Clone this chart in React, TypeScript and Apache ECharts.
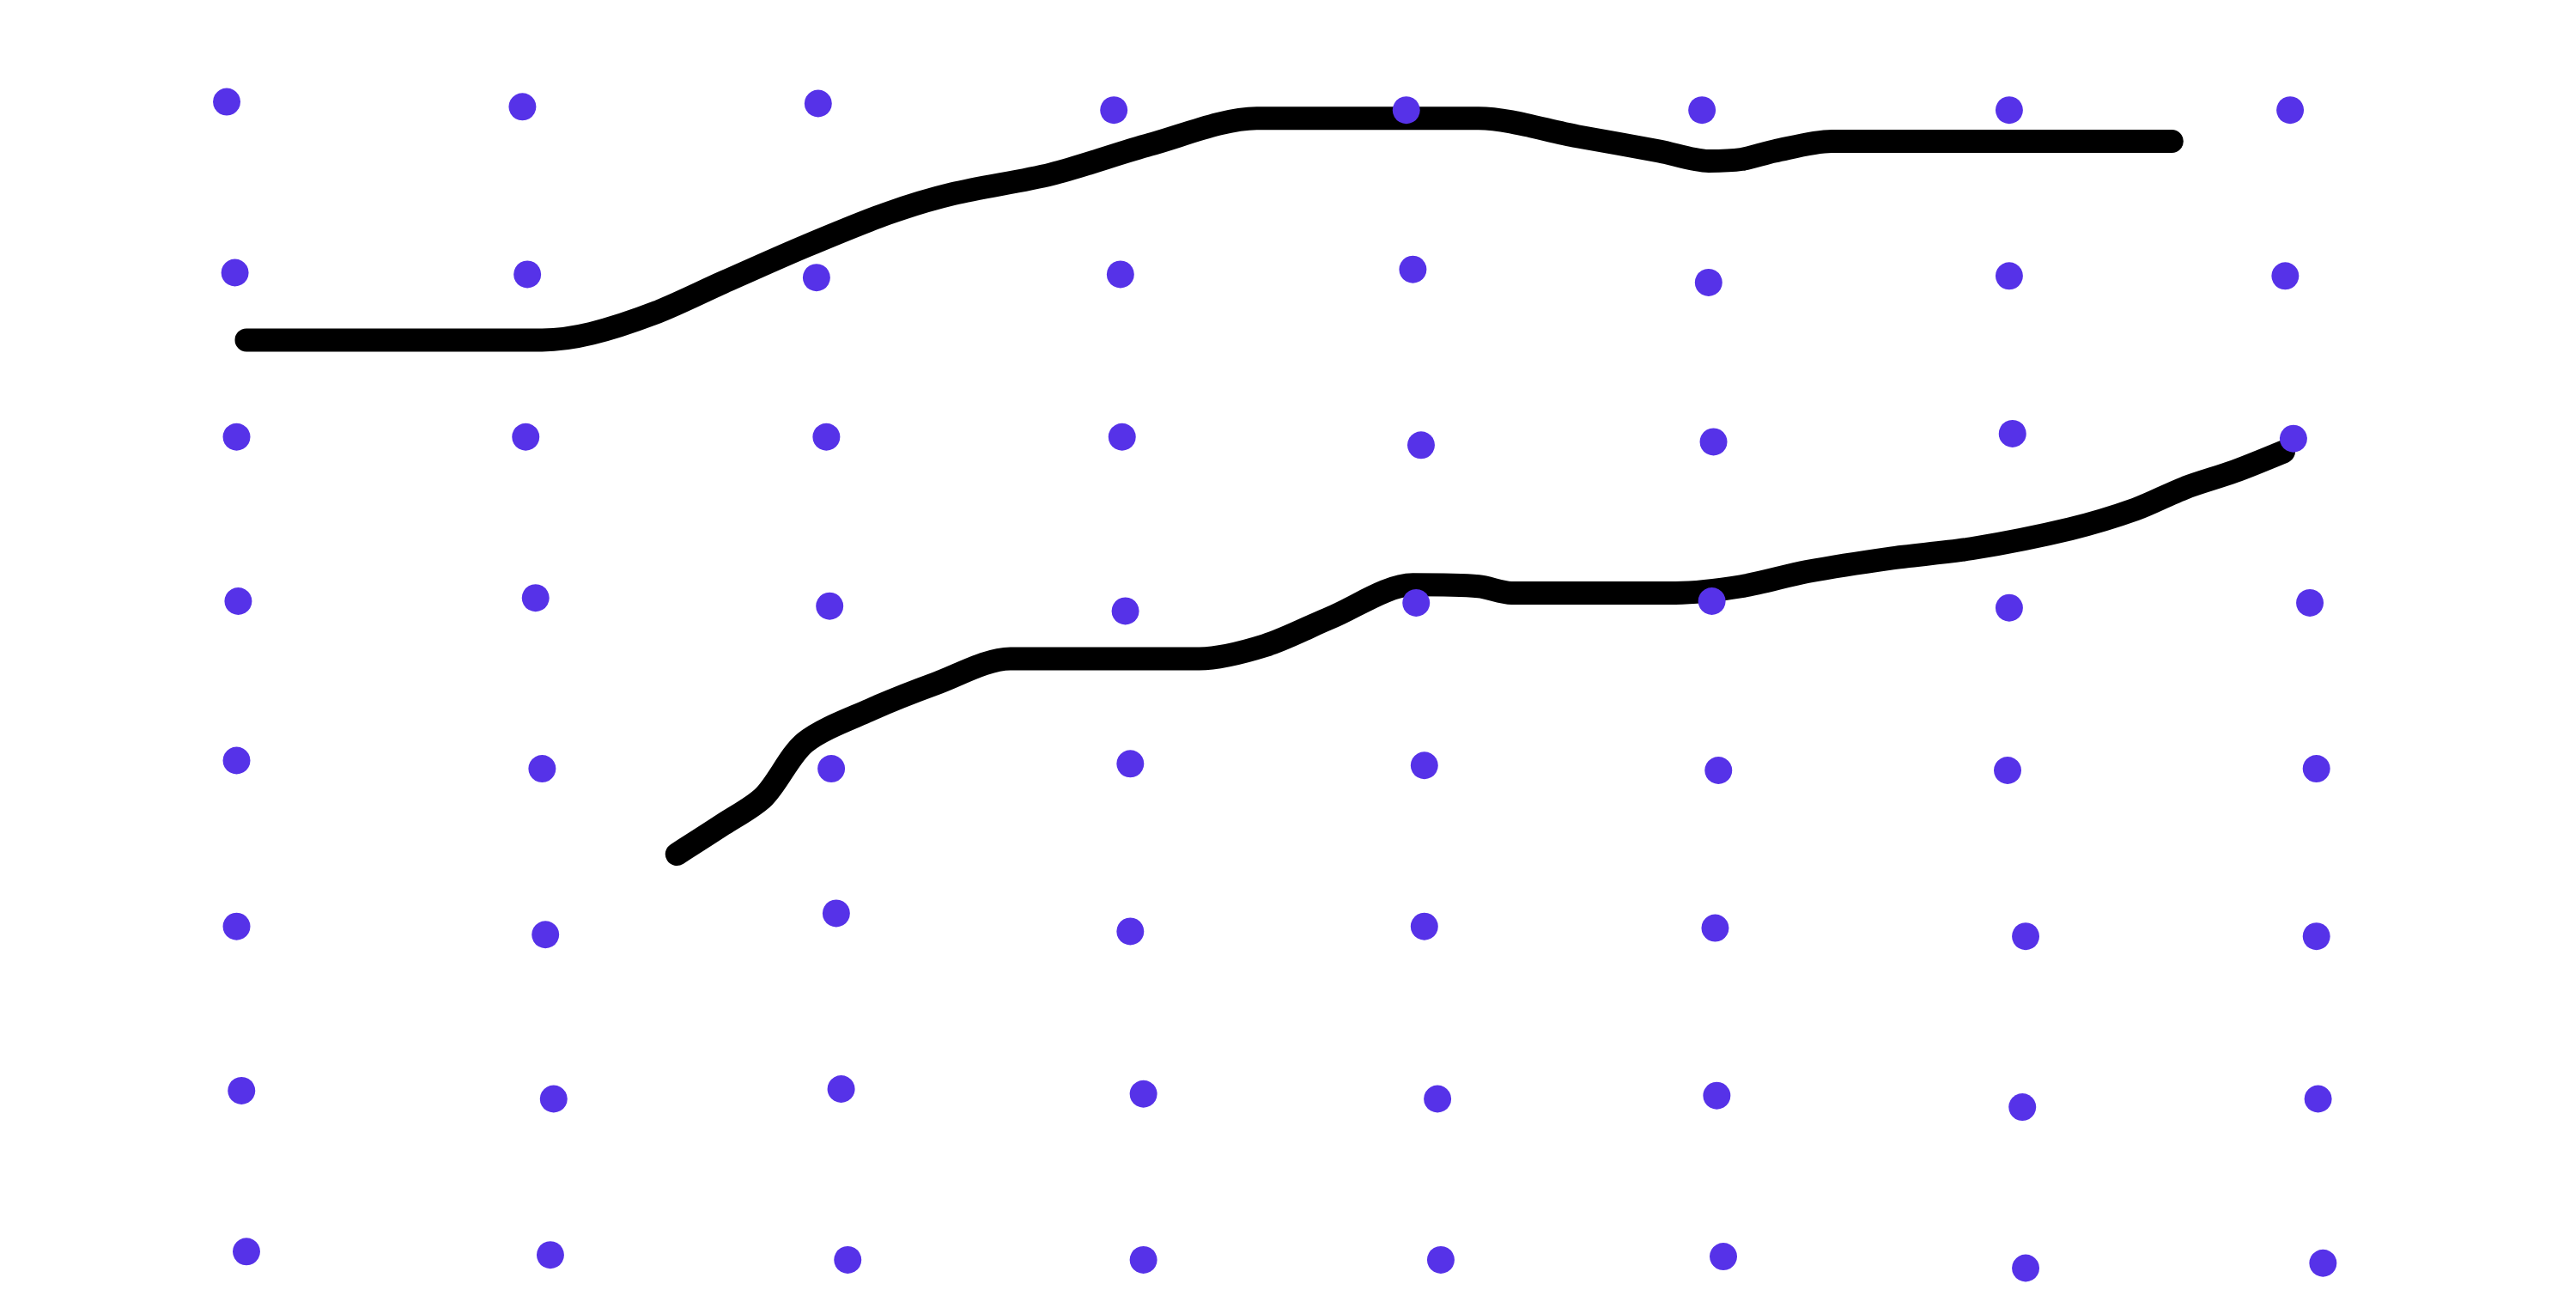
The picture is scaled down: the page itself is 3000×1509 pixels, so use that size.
import { useEffect, useRef } from 'react';
import * as echarts from 'echarts';

// coordinates in a 1568 x 789 reference frame
const dots: [number, number][] = [
  [138, 62], [318, 65], [498, 63], [678, 67], [856, 67], [1036, 67], [1223, 67], [1394, 67],
  [143, 166], [321, 167], [497, 169], [682, 167], [860, 164], [1040, 172], [1223, 168], [1391, 168],
  [144, 266], [320, 266], [503, 266], [683, 266], [865, 271], [1043, 269], [1225, 264], [1396, 267],
  [145, 366], [326, 364], [505, 369], [685, 372], [862, 367], [1042, 366], [1223, 370], [1406, 367],
  [144, 463], [330, 468], [506, 468], [688, 465], [867, 466], [1046, 469], [1222, 469], [1410, 468],
  [144, 564], [332, 569], [509, 556], [688, 567], [867, 564], [1044, 565], [1233, 570], [1410, 570],
  [147, 664], [337, 669], [512, 663], [696, 666], [875, 669], [1045, 667], [1231, 674], [1411, 669],
  [150, 762], [335, 764], [516, 767], [696, 767], [877, 767], [1049, 765], [1233, 772], [1414, 769],
];

const upperLine: [number, number][] = [
  [150, 207], [330, 207], [360, 203], [400, 190], [440, 172], [490, 150], [540, 130], [580, 118],
  [640, 106], [700, 88], [765, 72], [900, 72], [960, 83], [1010, 92], [1040, 98], [1060, 97],
  [1080, 92], [1115, 86], [1322, 86],
];

const lowerLine: [number, number][] = [
  [412, 520], [440, 502], [465, 485], [490, 452], [530, 432], [570, 416], [615, 401], [730, 401],
  [770, 393], [810, 376], [860, 356], [900, 357], [920, 361], [1020, 361], [1060, 357], [1100, 348],
  [1150, 340], [1200, 334], [1260, 322], [1300, 310], [1330, 297], [1360, 287], [1390, 275],
];

export default function App() {
  const chartRef = useRef<HTMLDivElement>(null);

  useEffect(() => {
    if (!chartRef.current) return;
    document.body.style.margin = '0';
    const chart = echarts.init(chartRef.current, null, { renderer: 'svg' });

    const lineStyle = { color: '#000000', width: 27, cap: 'round' as const, join: 'round' as const };

    chart.setOption({
      animation: false,
      grid: { left: 0, right: 0, top: 0, bottom: 0 },
      xAxis: { type: 'value', min: 0, max: 1568, show: false },
      yAxis: { type: 'value', min: 0, max: 789, inverse: true, show: false },
      series: [
        { type: 'line', data: upperLine, smooth: 0.3, showSymbol: false, lineStyle, z: 1 },
        { type: 'line', data: lowerLine, smooth: 0.3, showSymbol: false, lineStyle, z: 1 },
        {
          type: 'scatter',
          data: dots,
          symbol: 'circle',
          symbolSize: 32,
          itemStyle: { color: '#5632E8', opacity: 1 },
          z: 3,
        },
      ],
    });

    return () => chart.dispose();
  }, []);

  return <div ref={chartRef} style={{ width: 3000, height: 1509 }} />;
}
